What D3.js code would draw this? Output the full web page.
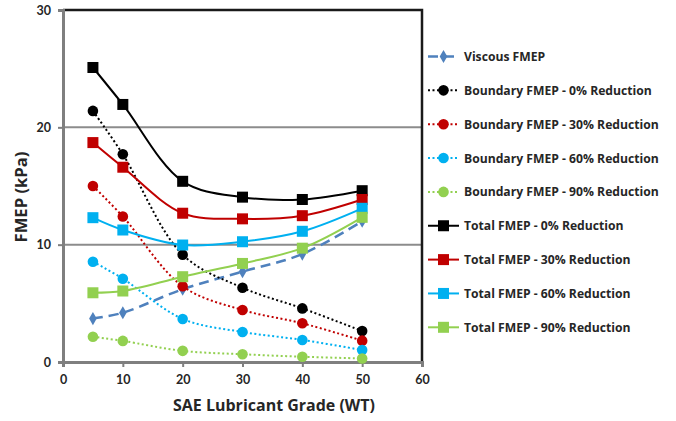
<!DOCTYPE html>
<html>
<head>
<meta charset="utf-8">
<script src="https://cdn.jsdelivr.net/npm/d3@7"></script>
<style>
  html, body { margin: 0; padding: 0; background: #fff; }
  svg { display: block; font-family: "Open Sans", Lato, sans-serif; }
</style>
</head>
<body>
<svg id="chart" width="676" height="421"></svg>
<script>
// SAE grades on the x axis
const grades = [5, 10, 20, 30, 40, 50];

// FMEP values (kPa) per series
const viscous      = [3.7, 4.2, 6.2, 7.7, 9.2, 12.0];
const boundary0    = [21.4, 17.7, 9.15, 6.33, 4.57, 2.64];
const boundary30   = [15.0, 12.4, 6.45, 4.43, 3.3, 1.82];
const boundary60   = [8.55, 7.1, 3.67, 2.56, 1.88, 1.02];
const boundary90   = [2.15, 1.8, 0.95, 0.66, 0.45, 0.3];
const total0       = [25.1, 21.95, 15.4, 14.05, 13.85, 14.6];
const total30      = [18.7, 16.6, 12.68, 12.2, 12.47, 13.85];
const total60      = [12.3, 11.25, 9.97, 10.25, 11.14, 13.1];
const total90      = [5.9, 6.05, 7.27, 8.4, 9.7, 12.33];

const xTicks = [0, 10, 20, 30, 40, 50, 60];
const yTicks = [0, 10, 20, 30];

const series = [
  { name: "Viscous FMEP", values: viscous, color: "#4f81bd", kind: "viscous" },
  { name: "Boundary FMEP - 0% Reduction", values: boundary0, color: "#000000", kind: "boundary" },
  { name: "Boundary FMEP - 30% Reduction", values: boundary30, color: "#c00000", kind: "boundary" },
  { name: "Boundary FMEP - 60% Reduction", values: boundary60, color: "#00b0f0", kind: "boundary" },
  { name: "Boundary FMEP - 90% Reduction", values: boundary90, color: "#92d050", kind: "boundary" },
  { name: "Total FMEP - 0% Reduction", values: total0, color: "#000000", kind: "total" },
  { name: "Total FMEP - 30% Reduction", values: total30, color: "#c00000", kind: "total" },
  { name: "Total FMEP - 60% Reduction", values: total60, color: "#00b0f0", kind: "total" },
  { name: "Total FMEP - 90% Reduction", values: total90, color: "#92d050", kind: "total" }
];

const svg = d3.select("#chart");
const plot = { left: 63, right: 422, top: 10, bottom: 362 };

const x = d3.scaleLinear().domain([0, 60]).range([plot.left, plot.right]);
const y = d3.scaleLinear().domain([0, 30]).range([plot.bottom, plot.top]);

const textColor = "#262626";

// scale a text's font size so its drawn width matches the given width
function fitWidth(sel, width) {
  const node = sel.node();
  const size = parseFloat(sel.attr("font-size"));
  const w = node.getComputedTextLength();
  if (w > 0) sel.attr("font-size", (size * width / w).toFixed(2));
}

// horizontal gridlines
svg.append("g").selectAll("line")
  .data(yTicks.filter(t => t > 0 && t < 30))
  .join("line")
  .attr("x1", plot.left).attr("x2", plot.right)
  .attr("y1", d => y(d)).attr("y2", d => y(d))
  .attr("stroke", "#8c8c8c").attr("stroke-width", 2);

// top and right frame
svg.append("path")
  .attr("d", `M${plot.left},${plot.top}H${plot.right}V${plot.bottom}`)
  .attr("fill", "none").attr("stroke", "#1a1a1a").attr("stroke-width", 2.5);

// axes
const xAxis = svg.append("g")
  .attr("transform", `translate(0,${plot.bottom})`)
  .call(d3.axisBottom(x).tickValues(xTicks).tickSize(5).tickPadding(8));
const yAxis = svg.append("g")
  .attr("transform", `translate(${plot.left},0)`)
  .call(d3.axisLeft(y).tickValues(yTicks).tickSize(5).tickPadding(7));

[xAxis, yAxis].forEach(ax => {
  ax.select(".domain").attr("stroke", "#7f7f7f").attr("stroke-width", 3);
  ax.selectAll(".tick line").attr("stroke", "#7f7f7f").attr("stroke-width", 2);
  ax.selectAll(".tick text")
    .attr("fill", textColor)
    .attr("font-size", 12.5)
    .attr("font-weight", "bold")
    .attr("font-family", "Lato, 'Open Sans', sans-serif");
});

// axis titles
svg.append("text")
  .attr("x", 274).attr("y", 411)
  .attr("text-anchor", "middle")
  .attr("font-size", 15).attr("font-weight", "bold").attr("fill", textColor)
  .text("SAE Lubricant Grade (WT)")
  .call(fitWidth, 202);
svg.append("text")
  .attr("transform", "translate(27,197) rotate(-90)")
  .attr("text-anchor", "middle")
  .attr("font-size", 15).attr("font-weight", "bold").attr("fill", textColor)
  .text("FMEP (kPa)")
  .call(fitWidth, 91);

const smooth = d3.line()
  .x((d, i) => x(grades[i]))
  .y(d => y(d))
  .curve(d3.curveCatmullRom.alpha(0.5));

function lineStyle(sel, s) {
  sel.attr("fill", "none").attr("stroke", s.color);
  if (s.kind === "viscous") {
    sel.attr("stroke-width", 2.5).attr("stroke-dasharray", "10,6");
  } else if (s.kind === "boundary") {
    sel.attr("stroke-width", 2).attr("stroke-dasharray", "2,2.5");
  } else {
    sel.attr("stroke-width", 2);
  }
}

function drawMarker(g, s, cx, cy) {
  if (s.kind === "viscous") {
    g.append("path")
      .attr("d", d3.symbol().type(d3.symbolDiamond).size(50)())
      .attr("transform", `translate(${cx},${cy})`)
      .attr("fill", s.color);
  } else if (s.kind === "boundary") {
    g.append("circle").attr("cx", cx).attr("cy", cy).attr("r", 5.3).attr("fill", s.color);
  } else {
    g.append("rect").attr("x", cx - 5.5).attr("y", cy - 5.5)
      .attr("width", 11).attr("height", 11).attr("fill", s.color);
  }
}

// series
series.forEach(s => {
  const g = svg.append("g");
  g.append("path").datum(s.values).attr("d", smooth).call(lineStyle, s);
  s.values.forEach((v, i) => drawMarker(g, s, x(grades[i]), y(v)));
});

// legend
const legendTop = 56.5, legendStep = 33.85;
let legendSize = 12;
series.forEach((s, i) => {
  const ly = legendTop + i * legendStep;
  const g = svg.append("g");
  g.append("line").attr("x1", 428).attr("x2", 459).attr("y1", ly).attr("y2", ly).call(lineStyle, s);
  drawMarker(g, s, 443.5, ly);
  const t = g.append("text")
    .attr("class", "legend-label")
    .attr("x", 464).attr("y", ly + 4.5)
    .attr("font-size", legendSize).attr("font-weight", "bold").attr("fill", textColor)
    .text(s.name);
  // the longest label sets one common size for all entries
  if (i === 2) {
    fitWidth(t, 195);
    legendSize = +t.attr("font-size");
  }
});
svg.selectAll(".legend-label").attr("font-size", legendSize);
</script>
</body>
</html>
